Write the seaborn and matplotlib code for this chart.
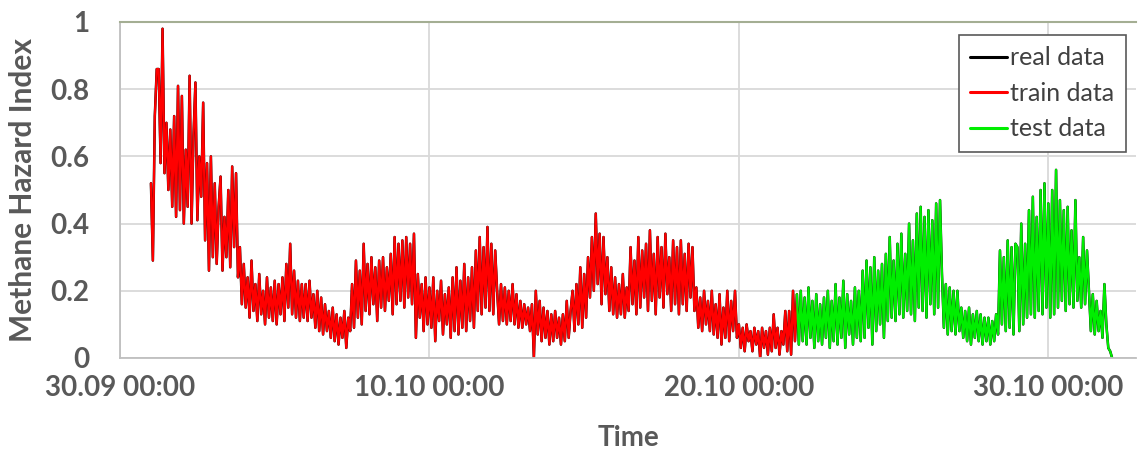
import numpy as np
import pandas as pd
import matplotlib
matplotlib.use("Agg")
import matplotlib.pyplot as plt
import seaborn as sns

# Methane hazard index, readings every 90 minutes from 01.10 00:00 (hundredths),
# one row per day
index_pct = [
    52, 29, 72, 86, 86, 58, 98, 55, 70, 50, 68, 45, 72, 42, 81, 44,
    78, 40, 62, 45, 84, 40, 66, 82, 41, 60, 48, 76, 35, 58, 26, 60,
    30, 52, 28, 45, 54, 26, 42, 30, 50, 27, 57, 33, 55, 24, 33, 16,
    28, 15, 24, 12, 29, 14, 22, 11, 25, 13, 20, 10, 24, 12, 21, 11,
    23, 10, 22, 13, 24, 11, 28, 15, 34, 13, 26, 12, 23, 11, 22, 12,
    22, 11, 23, 12, 19, 9, 20, 8, 18, 7, 16, 8, 14, 6, 15, 5,
    13, 4, 12, 6, 14, 3, 12, 8, 22, 9, 29, 12, 26, 10, 34, 14,
    28, 13, 30, 16, 27, 11, 29, 15, 30, 14, 27, 17, 31, 13, 36, 16,
    34, 17, 35, 15, 36, 18, 34, 16, 37, 6, 25, 12, 22, 8, 24, 10,
    21, 9, 24, 5, 20, 11, 23, 7, 19, 10, 21, 6, 24, 8, 27, 7,
    23, 9, 28, 8, 24, 11, 27, 9, 32, 14, 36, 13, 33, 15, 39, 14,
    34, 13, 32, 20, 10, 22, 11, 21, 10, 20, 11, 22, 10, 19, 9, 17,
    9, 16, 10, 15, 8, 16, 0, 20, 7, 17, 5, 15, 6, 14, 4, 13,
    5, 14, 6, 12, 4, 13, 5, 17, 6, 14, 20, 8, 22, 10, 27, 9,
    25, 12, 30, 18, 36, 20, 43, 22, 37, 16, 36, 19, 30, 14, 27, 13,
    24, 12, 22, 13, 25, 12, 21, 14, 33, 16, 29, 13, 36, 15, 32, 18,
    34, 14, 38, 17, 31, 13, 36, 18, 33, 15, 37, 19, 30, 14, 35, 16,
    33, 13, 35, 16, 31, 14, 34, 18, 33, 14, 21, 9, 18, 8, 20, 10,
    17, 8, 20, 7, 16, 6, 19, 4, 15, 6, 20, 5, 17, 8, 20, 6,
    10, 3, 9, 2, 10, 5, 8, 2, 9, 4, 8, 0, 9, 3, 8, 1,
    9, 2, 13, 3, 9, 1, 8, 4, 14, 2, 14, 1, 20, 5, 19, 4,
    20, 5, 18, 4, 21, 6, 17, 3, 19, 5, 16, 4, 18, 6, 20, 3,
    17, 5, 22, 4, 18, 6, 23, 3, 19, 7, 17, 4, 21, 6, 20, 5,
    26, 6, 29, 9, 27, 4, 30, 8, 26, 10, 28, 6, 31, 11, 36, 12,
    29, 11, 34, 13, 37, 12, 31, 14, 40, 13, 35, 11, 43, 15, 45, 14,
    42, 12, 44, 16, 41, 13, 46, 15, 47, 25, 9, 22, 7, 21, 8, 20,
    7, 20, 8, 15, 6, 14, 5, 15, 4, 13, 6, 14, 5, 13, 4, 12,
    5, 12, 4, 11, 5, 13, 7, 32, 10, 30, 8, 35, 9, 33, 7, 34,
    33, 8, 40, 10, 34, 12, 44, 13, 48, 12, 42, 14, 50, 13, 52, 15,
    46, 12, 50, 13, 56, 15, 47, 17, 44, 14, 45, 16, 38, 15, 47, 17,
    30, 15, 36, 16, 32, 20, 8, 19, 7, 17, 8, 14, 6, 22, 10, 3,
    2, 0,
]
split_index = 334          # last training reading; the test set starts here
start_time = "2018-10-01 00:00"
step = "90min"

series_labels = ["real data", "train data", "test data"]
series_colors = ["#000000", "#ff0000", "#00ee00"]

x_tick_dates = ["2018-09-30", "2018-10-10", "2018-10-20", "2018-10-30"]
x_tick_labels = ["30.09 00:00", "10.10 00:00", "20.10 00:00", "30.10 00:00"]
x_range = ["2018-09-30 00:00", "2018-11-01 20:00"]
y_ticks = [0, 0.2, 0.4, 0.6, 0.8, 1]
y_tick_labels = ["0", "0.2", "0.4", "0.6", "0.8", "1"]

sns.set_theme(style="white")
plt.rcParams["font.family"] = ["Lato", "DejaVu Sans"]

text_grey = "#595959"
grid_grey = "#d9d9d9"

times = pd.date_range(start_time, periods=len(index_pct), freq=step)
df = pd.DataFrame({"time": times, "value": np.array(index_pct) / 100.0})
train = df.iloc[: split_index + 1]
test = df.iloc[split_index:]

W, H = 1138, 462
fig = plt.figure(figsize=(W / 100, H / 100), dpi=100)
ax = fig.add_axes([120 / W, 1 - 358 / H, (1136 - 120) / W, (358 - 22) / H])

sns.lineplot(data=df, x="time", y="value", ax=ax, color=series_colors[0],
             lw=1.8, label=series_labels[0], estimator=None, sort=False)
sns.lineplot(data=train, x="time", y="value", ax=ax, color=series_colors[1],
             lw=1.6, label=series_labels[1], estimator=None, sort=False)
sns.lineplot(data=test, x="time", y="value", ax=ax, color=series_colors[2],
             lw=1.6, label=series_labels[2], estimator=None, sort=False)

ax.set_xlim(pd.Timestamp(x_range[0]), pd.Timestamp(x_range[1]))
ax.set_ylim(0, 1)
ax.set_xticks(pd.to_datetime(x_tick_dates))
ax.set_xticklabels(x_tick_labels)
ax.set_yticks(y_ticks)
ax.set_yticklabels(y_tick_labels)

ax.grid(True, color=grid_grey, lw=1.3)
ax.set_axisbelow(True)
ax.tick_params(axis="y", length=8, width=1.3, color=grid_grey, pad=14,
               labelsize=20, labelcolor=text_grey)
ax.tick_params(axis="x", length=0, pad=12, labelsize=20, labelcolor=text_grey)
for lab in ax.get_xticklabels() + ax.get_yticklabels():
    lab.set_fontweight("bold")

ax.spines["right"].set_visible(False)
ax.spines["top"].set_color("#a4ae93")
ax.spines["top"].set_linewidth(1.5)
for side in ("left", "bottom"):
    ax.spines[side].set_color("#bfbfbf")
    ax.spines[side].set_linewidth(1.3)

ax.set_xlabel("Time", fontsize=20, fontweight="bold", color=text_grey)
ax.set_ylabel("Methane Hazard Index", fontsize=21.5, fontweight="bold", color=text_grey)
ax.xaxis.set_label_coords(0.5, -0.2)
ax.xaxis.label.set_va("top")
ax.yaxis.set_label_coords(-0.082, 0.5)

leg = ax.legend(loc="upper right", bbox_to_anchor=(0.990, 0.961), borderaxespad=0,
                fontsize=18, frameon=True, fancybox=False, framealpha=1,
                edgecolor="#595959", handlelength=1.45, handletextpad=0.15,
                borderpad=0.45, labelspacing=0.5)
leg.get_frame().set_linewidth(1.2)
for line in leg.get_lines():
    line.set_linewidth(2.2)
for t in leg.get_texts():
    t.set_color("#404040")

fig.savefig("out.png", dpi=100)
